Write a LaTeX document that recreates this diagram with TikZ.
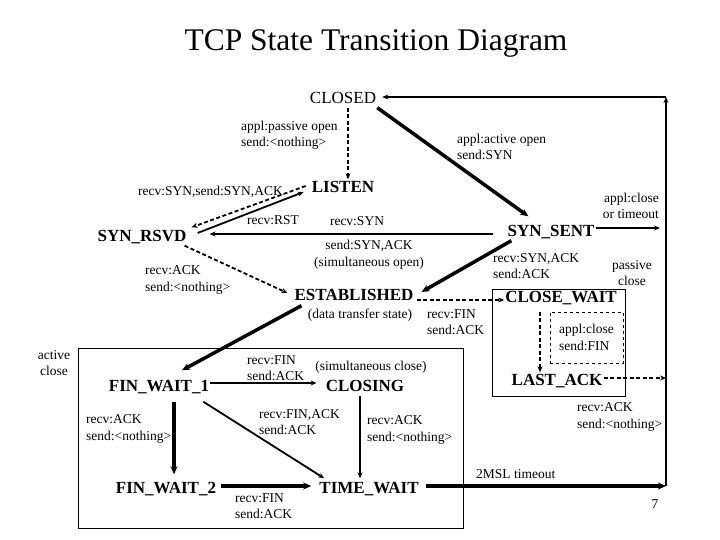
\documentclass[tikz,border=0pt]{standalone}
\usepackage{fontspec}
\setmainfont{Liberation Serif}
\usetikzlibrary{positioning,arrows.meta,calc}
\newcommand{\statefont}{\fontsize{17}{17}\selectfont}
\newcommand{\lblfont}{\fontsize{13.5}{16.5}\selectfont}
\tikzset{
  plainstate/.style={font=\statefont, inner sep=1pt, text height=12pt, text depth=3pt},
  state/.style={plainstate, font=\statefont\bfseries},
  lbl/.style={font=\lblfont, inner sep=0pt, align=left},
  tr/.style={-{Stealth[length=6pt, width=5pt]}, line width=1.8pt},
  fattr/.style={-{Stealth[length=8pt, width=7pt]}, line width=3.5pt},
  dtr/.style={tr, dash pattern=on 4pt off 2.5pt},
  frame/.style={line width=1pt}
}
\begin{document}
\begin{tikzpicture}[x=1pt, y=-1pt]
\useasboundingbox (0,0) rectangle (720,540);
\node[font=\fontsize{31.5}{32}\selectfont] (title) at (376,43) {TCP State Transition Diagram};
% states
\node[plainstate] (closed) at (343,99) {CLOSED};
\node[state] (listen) at (343,188) {LISTEN};
\node[state] (synrsvd) at (142,237) {SYN\_RSVD};
\node[state] (synsent) at (551,232) {SYN\_SENT};
\node[state] (estab) at (354,296) {ESTABLISHED};
\node[state] (closewait) at (561,298) {CLOSE\_WAIT};
\node[state] (lastack) at (557,381) {LAST\_ACK};
\node[state] (finwaita) at (159,387) {FIN\_WAIT\_1};
\node[state] (closing) at (365,387) {CLOSING};
\node[state] (finwaitb) at (166,489) {FIN\_WAIT\_2};
\node[state] (timewait) at (369,489) {TIME\_WAIT};
% labels
\node[lbl, anchor=west] (lpassive) at (241,135.5) {appl:passive open\\send:<nothing>};
\node[lbl, anchor=west] (lactive) at (457,147) {appl:active open\\send:SYN};
\node[lbl, anchor=east, align=right] (ltimeout) at (659,206) {appl:close\\or timeout};
\node[lbl, anchor=east] (lsynack) at (283,192) {recv:SYN,send:SYN,ACK};
\node[lbl] (lrst) at (273,220) {recv:RST};
\node[lbl] (lsyn) at (357,221) {recv:SYN};
\node[lbl, align=center] (lsimopen) at (369,255) {send:SYN,ACK\\(simultaneous open)};
\node[lbl, anchor=west] (lackrsvd) at (145,280) {recv:ACK\\send:<nothing>};
\node[lbl] (ldata) at (360,315) {(data transfer state)};
\node[lbl, anchor=west] (lfinestab) at (427,322) {recv:FIN\\send:ACK};
\node[lbl, anchor=west] (lsynacksent) at (493,266) {recv:SYN,ACK\\send:ACK};
\node[lbl, align=center] (lpassclose) at (632,273) {passive\\close};
\node[lbl, draw, dashed, line width=0.8pt, minimum width=73pt, minimum height=51pt] (lclosefin) at (586.5,337.5) {appl:close\\send:FIN};
\node[lbl, anchor=west] (lacklast) at (577,417) {recv:ACK\\send:<nothing>};
\node[lbl, align=center] (lactclose) at (54,363) {active\\close};
\node[lbl, anchor=west] (lfinwait) at (247,368) {recv:FIN\\send:ACK};
\node[lbl] (lsimclose) at (371,367) {(simultaneous close)};
\node[lbl, anchor=west] (lfinack) at (259,422) {recv:FIN,ACK\\send:ACK};
\node[lbl, anchor=west] (lackclosing) at (367,430) {recv:ACK\\send:<nothing>};
\node[lbl, anchor=west] (lackfin) at (86,429) {recv:ACK\\send:<nothing>};
\node[lbl, anchor=west] (lfinwaitb) at (235,506) {recv:FIN\\send:ACK};
\node[lbl, anchor=west] (lmsl) at (476,474) {2MSL timeout};
\node[lbl] (lpage) at (655,504) {7};
% boxes
\draw[frame] (78,348) rectangle (463,528);
\draw[frame] (492,289) rectangle (625,396);
% right return line
\coordinate (rb) at (666,486);
\coordinate (rt) at (666,97);
\draw[tr] (rb) -- (rt);
\draw[tr] (rt) -- ($(rt -| closed.east)+(5,0)$);
% transitions
\draw[dtr] ($(closed.south)+(5,0)$) -- ($(listen.north)+(5,0)$);
\draw[fattr] (closed.south east) -- ($(synsent.north west)+(22,-7)$);
\draw[dtr] ($(listen.west)+(-5,-2)$) -- ($(synrsvd.north east)+(4,-1)$);
\draw[tr] ($(synrsvd.east)+(10,-4)$) -- ($(listen.west)+(-7,4)$);
\draw[tr] ($(synsent.west)+(-13,2)$) -- ($(synsent.west -| synrsvd.east)+(22,2)$);
\draw[dtr] ($(synrsvd.south east)+(-3,0)$) -- ($(estab.west)+(-6,-3)$);
\draw[fattr] ($(synsent.south west)+(5,0)$) -- ($(estab.east)+(7,-4)$);
\draw[fattr] ($(estab.south west)+(8,1)$) -- ($(finwaita.north)+(23,-8)$);
\draw[dtr] ($(estab.east)+(2,4)$) -- ($(closewait.west)+(0,2)$);
\draw[dtr] ($(closewait.south)+(-21,5)$) -- ($(lastack.north)+(-17,0)$);
\draw[dtr] ($(lastack.east)+(0,-3)$) coordinate (la) -- (la -| rt);
\draw[tr] ($(synsent.east)+(0,-4)$) coordinate (ss) -- ($(ss -| rt)+(-6,0)$);
\draw[tr] ($(finwaita.east)+(0,-4)$) -- ($(closing.west)+(-8,-4)$);
\draw[fattr] ($(finwaita.south)+(15,6)$) -- ($(finwaitb.north)+(8,-6)$);
\draw[tr] ($(finwaita.south east)+(-7,6)$) -- ($(timewait.north west)+(6,-2)$);
\draw[tr] ($(closing.south)+(-5,0)$) -- ($(timewait.north)+(-9,-2)$);
\draw[fattr] ($(finwaitb.east)+(4,-3)$) -- ($(timewait.west)+(-7,-3)$);
\draw[fattr] ($(timewait.east)+(6,-3)$) -- (rb);
\end{tikzpicture}
\end{document}
